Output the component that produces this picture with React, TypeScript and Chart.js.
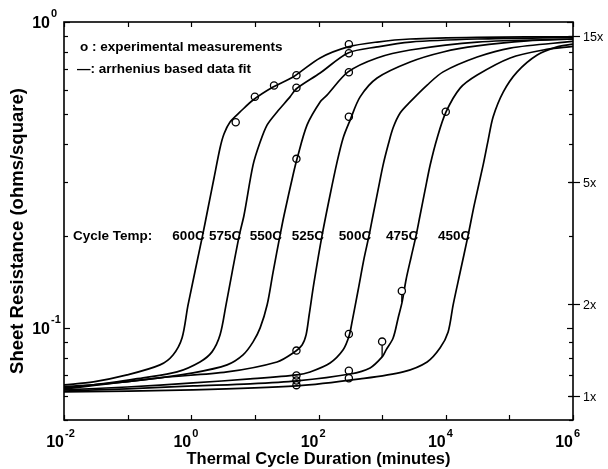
import React, { useEffect, useRef } from "react";
import { Chart, registerables } from "chart.js";

Chart.register(...registerables);

// ---------- data ----------
const temps = ["600C", "575C", "550C", "525C", "500C", "475C", "450C"];

const t600 = [0.01, 0.029, 0.098, 0.323, 0.517, 0.716, 0.891, 1.51, 1.84, 2.28, 2.84, 3.28, 4.07, 5.85, 9.37, 19.3, 39.8, 106, 292, 834, 2754, 31190, 1e6];
const r600 = [0.0651, 0.0666, 0.0702, 0.0757, 0.0816, 0.0927, 0.119, 0.201, 0.247, 0.309, 0.388, 0.431, 0.471, 0.508, 0.556, 0.613, 0.661, 0.763, 0.829, 0.86, 0.88, 0.891, 0.895];

const t575 = [0.01, 0.029, 0.175, 0.598, 1.37, 2.12, 2.84, 3.52, 4.39, 5.7, 6.76, 9.37, 12.1, 15.6, 22.3, 35.7, 44.5, 106, 292, 834, 2754, 31190, 1e6];
const r575 = [0.0644, 0.0651, 0.0687, 0.0718, 0.0774, 0.0835, 0.0949, 0.119, 0.152, 0.201, 0.234, 0.341, 0.405, 0.461, 0.508, 0.569, 0.604, 0.681, 0.792, 0.829, 0.86, 0.88, 0.891];

const t550 = [0.01, 0.175, 1.07, 3.66, 6.52, 9.37, 12.1, 15.6, 19.3, 24.9, 28.8, 39.8, 46, 66.2, 106, 136, 292, 834, 2754, 31190, 1e6];
const r550 = [0.0637, 0.0676, 0.0713, 0.0757, 0.0816, 0.09, 0.1, 0.119, 0.152, 0.201, 0.234, 0.316, 0.357, 0.461, 0.548, 0.577, 0.687, 0.763, 0.81, 0.86, 0.88];

const t525 = [0.01, 0.323, 3.66, 22.3, 39.8, 55.2, 63.8, 71.2, 85.3, 114, 152, 196, 244, 314, 451, 834, 2754, 9100, 31190, 190500, 1e6];
const r525 = [0.0632, 0.0687, 0.0718, 0.0774, 0.0828, 0.088, 0.0949, 0.11, 0.1413, 0.201, 0.272, 0.349, 0.418, 0.478, 0.569, 0.656, 0.74, 0.798, 0.835, 0.867, 0.88];

const t500 = [0.01, 0.098, 1.07, 8.41, 46, 73.8, 152, 244, 303, 337, 420, 521, 625, 721, 865, 1037, 1242, 1489, 1919, 2754, 5100, 9100, 31190, 103000, 1e6];
const r500 = [0.0627, 0.0641, 0.0661, 0.0681, 0.0702, 0.0718, 0.0768, 0.0848, 0.0942, 0.1047, 0.133, 0.169, 0.201, 0.234, 0.283, 0.341, 0.396, 0.451, 0.504, 0.548, 0.622, 0.687, 0.768, 0.822, 0.864];

const t475 = [0.01, 0.098, 1.07, 8.41, 46, 314, 647, 1000, 1156, 1489, 1786, 2063, 2382, 2860, 3428, 3957, 4745, 5690, 7330, 10100, 16830, 31190, 103000, 340000, 1e6];
const r475 = [0.0622, 0.0632, 0.0646, 0.0656, 0.0671, 0.0707, 0.074, 0.0804, 0.0848, 0.0927, 0.1078, 0.1216, 0.144, 0.1706, 0.201, 0.234, 0.283, 0.341, 0.418, 0.508, 0.608, 0.671, 0.763, 0.81, 0.832];

const t450 = [0.01, 1.07, 46, 451, 2138, 5100, 8170, 10900, 13070, 16830, 22500, 28000, 38730, 46400, 55620, 79980, 132700, 273700, 564600, 1e6];
const r450 = [0.0618, 0.0627, 0.0646, 0.0681, 0.0718, 0.0774, 0.0861, 0.097, 0.119, 0.152, 0.201, 0.252, 0.341, 0.411, 0.49, 0.59, 0.687, 0.78, 0.829, 0.847];

const curveT = [t600, t575, t550, t525, t500, t475, t450];
const curveR = [r600, r575, r550, r525, r500, r475, r450];

// where each temperature label ends (curve crossing near R = 0.2)
const labelT = [1.51, 5.7, 24.9, 114, 625, 3428, 22500];
const labelR = 0.2;

// experimental measurements
const measT = [5, 10, 20, 45, 45, 45, 45, 45, 45, 45, 300, 300, 300, 300, 300, 300, 300, 1000, 2040, 10000];
const measR = [0.47, 0.57, 0.62, 0.67, 0.61, 0.357, 0.0843, 0.0699, 0.0673, 0.065, 0.846, 0.79, 0.685, 0.49, 0.0955, 0.0725, 0.0685, 0.0902, 0.132, 0.509];

// short stems under two measurements
const stemT = [1000, 2040];
const stemTop = [0.0902, 0.132];
const stemBottom = [0.0804, 0.1216];

// axes
const xTicks = [1e-2, 1e-1, 1, 1e1, 1e2, 1e3, 1e4, 1e5, 1e6];
const xLabelExps = [-2, 0, 2, 4, 6];
const yTicks = [0.05, 0.06, 0.07, 0.08, 0.09, 0.1, 0.2, 0.3, 0.4, 0.5, 0.6, 0.7, 0.8, 0.9, 1];
const yLabelExps = [0, -1];
const rightVals = [0.06, 0.12, 0.3, 0.9];
const rightLabels = ["1x", "2x", "5x", "15x"];

const FONT = '"Liberation Sans", Arial, Helvetica, sans-serif';

const decor = {
  id: "decor",
  beforeDraw(chart: any) {
    const { ctx, width, height } = chart;
    ctx.save();
    ctx.fillStyle = "#fff";
    ctx.fillRect(0, 0, width, height);
    ctx.restore();
  },
  afterDraw(chart: any) {
    const { ctx, chartArea: a, scales } = chart;
    const xs = scales.x;
    const ys = scales.y;
    const line = (x1: number, y1: number, x2: number, y2: number) => {
      ctx.beginPath();
      ctx.moveTo(x1, y1);
      ctx.lineTo(x2, y2);
      ctx.stroke();
    };
    ctx.save();
    ctx.strokeStyle = "#000";
    ctx.fillStyle = "#000";
    ctx.lineWidth = 1.6;
    ctx.strokeRect(a.left, a.top, a.right - a.left, a.bottom - a.top);

    ctx.lineWidth = 1.2;
    for (const v of xTicks) {
      const px = Math.round(xs.getPixelForValue(v)) + 0.5;
      line(px, a.bottom, px, a.bottom - 5);
      line(px, a.top, px, a.top + 5);
    }
    for (const v of yTicks) {
      const py = Math.round(ys.getPixelForValue(v)) + 0.5;
      const len = v === 0.1 || v === 1 ? 6 : 4;
      line(a.left, py, a.left + len, py);
      line(a.right, py, a.right - len, py);
    }

    // x tick labels
    ctx.textBaseline = "alphabetic";
    ctx.textAlign = "left";
    for (const e of xLabelExps) {
      const px = xs.getPixelForValue(Math.pow(10, e));
      ctx.font = `bold 16px ${FONT}`;
      const bw = ctx.measureText("10").width;
      ctx.fillText("10", px - bw, a.bottom + 27);
      ctx.font = `bold 11px ${FONT}`;
      ctx.fillText(String(e), px + 1, a.bottom + 17);
    }

    // y tick labels
    for (const e of yLabelExps) {
      const py = ys.getPixelForValue(Math.pow(10, e));
      ctx.font = `bold 16px ${FONT}`;
      const bw = ctx.measureText("10").width;
      const right = a.left - 14;
      ctx.fillText("10", right - bw, py + 6);
      ctx.font = `bold 11px ${FONT}`;
      ctx.fillText(String(e), right + 1, py - 5);
    }

    // right labels
    ctx.font = `12.5px ${FONT}`;
    ctx.textAlign = "left";
    ctx.textBaseline = "middle";
    rightVals.forEach((v, i) => {
      const py = Math.round(ys.getPixelForValue(v)) + 0.5;
      line(a.right - 5, py, a.right + 7, py);
      ctx.fillText(rightLabels[i], a.right + 10, py + 1);
    });

    // axis titles
    ctx.font = `bold 16.5px ${FONT}`;
    ctx.textAlign = "center";
    ctx.textBaseline = "alphabetic";
    ctx.fillText("Thermal Cycle Duration (minutes)", (a.left + a.right) / 2, a.bottom + 44);
    ctx.save();
    ctx.font = `bold 18.5px ${FONT}`;
    ctx.translate(23, 231);
    ctx.rotate(-Math.PI / 2);
    ctx.fillText("Sheet Resistance (ohms/square)", 0, 0);
    ctx.restore();

    // legend
    ctx.font = `bold 13.5px ${FONT}`;
    ctx.textAlign = "left";
    ctx.textBaseline = "middle";
    ctx.fillText("o : experimental measurements", a.left + 16, a.top + 25);
    ctx.fillText("\u2014: arrhenius based data fit", a.left + 13, a.top + 47);

    // temperature labels
    const ly = ys.getPixelForValue(labelR);
    ctx.fillText("Cycle Temp:", a.left + 9, ly);
    ctx.textAlign = "right";
    temps.forEach((name, i) => {
      ctx.fillText(name, xs.getPixelForValue(labelT[i]) + 2, ly);
    });
    ctx.restore();
  },
};

export default function App() {
  const ref = useRef<HTMLCanvasElement | null>(null);
  useEffect(() => {
    if (!ref.current) return;
    const datasets: any[] = [];
    datasets.push({
      label: "measurements",
      data: measT.map((t, i) => ({ x: t, y: measR[i] })),
      showLine: false,
      pointStyle: "circle",
      pointRadius: 3.6,
      pointBorderWidth: 1.3,
      pointBorderColor: "#000",
      pointBackgroundColor: measT.map((t) => (stemT.includes(t) ? "#fff" : "rgba(0,0,0,0)")),
      borderColor: "#000",
      order: 0,
    });
    stemT.forEach((t, i) => {
      datasets.push({
        label: "stem" + i,
        data: [
          { x: t, y: stemTop[i] },
          { x: t, y: stemBottom[i] },
        ],
        borderColor: "#000",
        borderWidth: 1.3,
        pointRadius: 0,
        order: 1,
      });
    });
    temps.forEach((name, i) => {
      datasets.push({
        label: name,
        data: curveT[i].map((t, j) => ({ x: t, y: curveR[i][j] })),
        borderColor: "#000",
        borderWidth: 1.7,
        pointRadius: 0,
        fill: false,
        tension: 0.3,
        order: 2,
      });
    });
    const chart = new Chart(ref.current, {
      type: "line",
      data: { datasets },
      options: {
        animation: false,
        responsive: false,
        devicePixelRatio: 1,
        events: [],
        layout: { padding: { left: 64, top: 22, right: 35, bottom: 49 } },
        scales: {
          x: { type: "logarithmic", min: 0.01, max: 1e6, display: false },
          y: { type: "logarithmic", min: 0.05, max: 1, display: false },
        },
        plugins: { legend: { display: false }, tooltip: { enabled: false } },
      },
      plugins: [decor],
    } as any);
    return () => chart.destroy();
  }, []);
  return (
    <div style={{ position: "absolute", left: 0, top: 0, width: 608, height: 469, background: "#fff" }}>
      <canvas ref={ref} width={608} height={469} />
    </div>
  );
}
